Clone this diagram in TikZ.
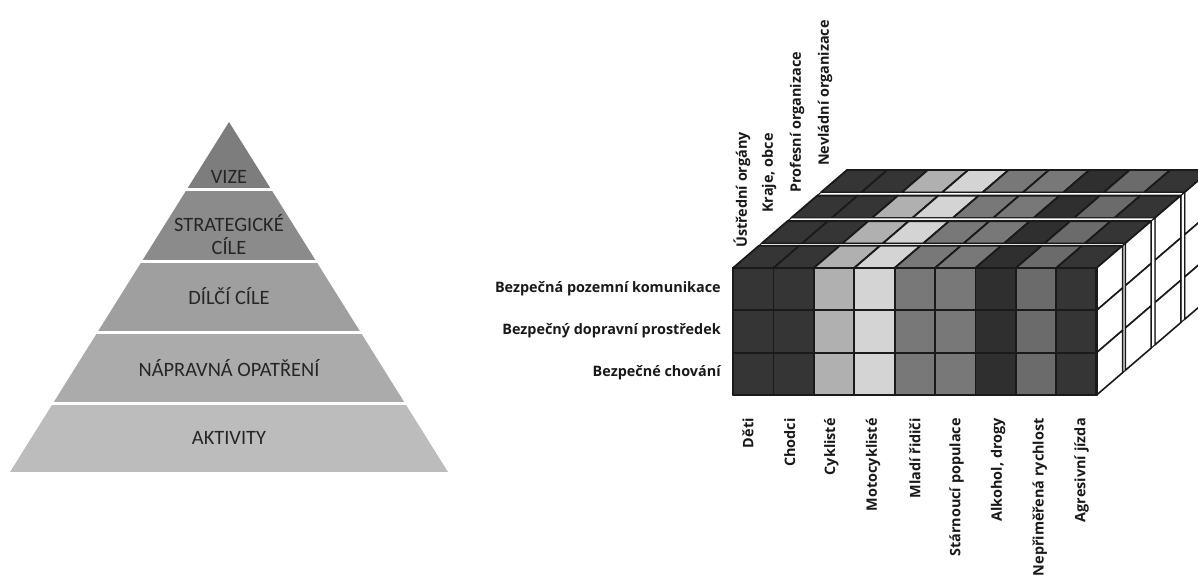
\documentclass[tikz,border=0pt]{standalone}
\usepackage{fontspec}
\setmainfont{Open Sans}
\newfontfamily\pyrfont{Carlito}
\definecolor{bandA}{HTML}{7D7D7D}
\definecolor{bandB}{HTML}{8B8B8B}
\definecolor{bandC}{HTML}{9F9F9F}
\definecolor{bandD}{HTML}{ABABAB}
\definecolor{bandE}{HTML}{BCBCBC}
\definecolor{cDark}{HTML}{353535}
\definecolor{cDeep}{HTML}{2F2F2F}
\definecolor{cLight}{HTML}{B0B0B0}
\definecolor{cPale}{HTML}{D4D4D4}
\definecolor{cMid}{HTML}{787878}
\definecolor{cGrey}{HTML}{6B6B6B}
\definecolor{cEdge}{HTML}{1A1A1A}

%% one slab of the cube: front depth, back depth
\newcommand\slabfaces[2]{%
  \foreach \c [count=\i from 0] in {cDark,cDark,cLight,cPale,cMid,cMid,cDeep,cGrey,cDark}
    \draw[cell=\c] (733+\i*40.4,268,#1) -- (773.4+\i*40.4,268,#1)
      -- (773.4+\i*40.4,268,#2) -- (733+\i*40.4,268,#2) -- cycle;
  \foreach \j in {0,1,2}
    \draw[sidecell] (1096.6,268+\j*42.33,#1) -- (1096.6,268+\j*42.33,#2)
      -- (1096.6,310.33+\j*42.33,#2) -- (1096.6,310.33+\j*42.33,#1) -- cycle;
}
%% thin white spacer between two slabs
\newcommand\spacerfaces[2]{%
  \draw[spacer] (733,268,#1) -- (1096.6,268,#1) -- (1096.6,268,#2) -- (733,268,#2) -- cycle;
  \draw[spacer] (1096.6,268,#1) -- (1096.6,268,#2) -- (1096.6,395,#2) -- (1096.6,395,#1) -- cycle;
}

\begin{document}
\begin{tikzpicture}[
   x=0.75pt, y=-0.75pt, z={(0.8723pt,0.75pt)},
   line join=round,
   pyrlabel/.style={font=\pyrfont\fontsize{15.3}{17.3}\selectfont,text=black!85,
                    align=center,inner sep=0pt},
   cell/.style={draw=cEdge,line width=1.35pt,fill=#1},
   sidecell/.style={draw=cEdge,line width=1.2pt,fill=white},
   spacer/.style={draw=cEdge,line width=0.8pt,fill=white},
   cubelabel/.style={font=\bfseries\fontsize{10.8}{13}\selectfont,text=black!90,inner sep=0pt},
   rowlabel/.style={cubelabel,anchor=east},
   collabel/.style={cubelabel,rotate=90,anchor=east},
   deplabel/.style={cubelabel,rotate=90,anchor=west},
   ]
\useasboundingbox (0,0) rectangle (1198,579);
%% Pyramid
\begin{scope}
  \clip (229,122) -- (448,472) -- (10,472) -- cycle;
  \fill[bandA] (0,100) rectangle (460,188);
  \fill[bandB] (0,191) rectangle (460,260);
  \fill[bandC] (0,263) rectangle (460,331);
  \fill[bandD] (0,334) rectangle (460,402);
  \fill[bandE] (0,405) rectangle (460,472);
\end{scope}
\node[pyrlabel] (vize)   at (229,177) {VIZE};
\node[pyrlabel] (strat)  at (229,235) {STRATEGICKÉ\\CÍLE};
\node[pyrlabel] (dilci)  at (229,296) {DÍLČÍ CÍLE};
\node[pyrlabel] (naprav) at (229,368) {NÁPRAVNÁ OPATŘENÍ};
\node[pyrlabel] (aktiv)  at (229,438) {AKTIVITY};
%% Cube, drawn from the back slab to the front one
\slabfaces{75.6}{98.1}
\spacerfaces{72.4}{75.6}
\slabfaces{50.1}{72.4}
\spacerfaces{46.9}{50.1}
\slabfaces{24.6}{46.9}
\spacerfaces{22.3}{24.6}
\slabfaces{0}{22.3}
%% front face
\foreach \c [count=\i from 0] in {cDark,cDark,cLight,cPale,cMid,cMid,cDeep,cGrey,cDark}
  \foreach \j in {0,1,2}
    \draw[cell=\c] (733+\i*40.4,268+\j*42.33) rectangle (773.4+\i*40.4,310.33+\j*42.33);
\draw[cEdge,line width=1.8pt] (733,268) rectangle (1096.6,395);
%% row labels
\node[rowlabel] (road)    at (721,289) {Bezpečná pozemní komunikace};
\node[rowlabel] (vehicle) at (721,331) {Bezpečný dopravní prostředek};
\node[rowlabel] (behav)   at (721,373) {Bezpečné chování};
%% column labels
\node[collabel] (deti)   at (748,418)    {Děti};
\node[collabel] (chodci) at (789.7,418)  {Chodci};
\node[collabel] (cykl)   at (831.4,418)  {Cyklisté};
\node[collabel] (moto)   at (873.1,418)  {Motocyklisté};
\node[collabel] (mladi)  at (914.8,418)  {Mladí řidiči};
\node[collabel] (star)   at (956.5,418)  {Stárnoucí populace};
\node[collabel] (alko)   at (998.2,418)  {Alkohol, drogy};
\node[collabel] (rych)   at (1039.9,418) {Nepřiměřená rychlost};
\node[collabel] (agr)    at (1081.6,418) {Agresivní jízda};
%% depth labels
\node[deplabel] (ustr)   at (742,248) {Ústřední orgány};
\node[deplabel] (kraje)  at (769,213) {Kraje, obce};
\node[deplabel] (prof)   at (797,193) {Profesní organizace};
\node[deplabel] (nevl)   at (825,166) {Nevládní organizace};
\end{tikzpicture}
\end{document}
